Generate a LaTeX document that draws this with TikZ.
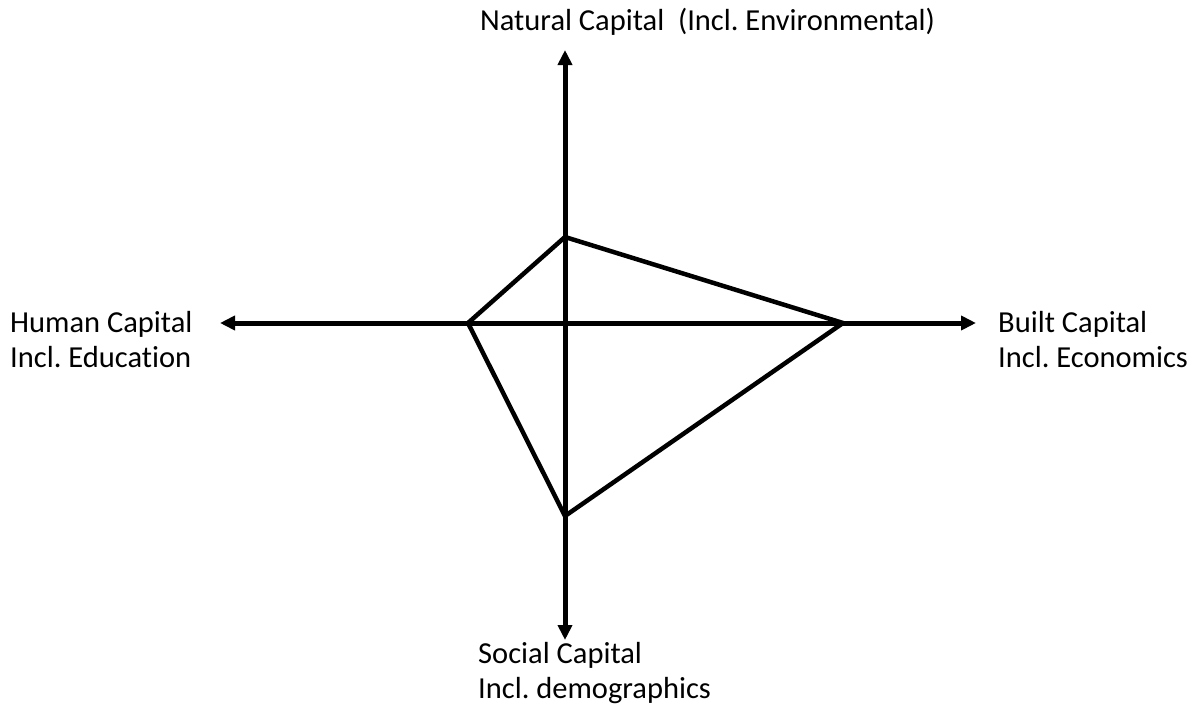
\documentclass[tikz,border=0pt]{standalone}
\usepackage{fontspec}
\setmainfont{Carlito}[Ligatures=NoCommon]
\usetikzlibrary{arrows.meta}
\tikzset{
	axisline/.style={line width=5pt,-{Triangle[length=15pt,width=14pt]}},
	kite/.style={line width=4.5pt,line join=miter},
	caplabel/.style={anchor=west,align=left,inner sep=0pt,font=\fontsize{30.5}{35}\selectfont}
}
\begin{document}
\begin{tikzpicture}[x=1pt,y=-1pt]
			\useasboundingbox (0,0) rectangle (1195,707);
			\coordinate (o) at (565,323);
			\coordinate (n) at (565,50);
			\coordinate (s) at (565,640);
			\coordinate (w) at (220,323);
			\coordinate (e) at (976,323);
			\coordinate (kn) at (565,237);
			\coordinate (ke) at (843,323);
			\coordinate (ks) at (565,516);
			\coordinate (kw) at (468,323);
			\draw[axisline] (o) -- (n);
			\draw[axisline] (o) -- (s);
			\draw[axisline] (o) -- (w);
			\draw[axisline] (o) -- (e);
			\draw[kite] (kn) -- (ke) -- (ks) -- (kw) -- cycle;
			\node[caplabel] (natural) at (480,22) {Natural Capital\ \ (Incl.\ Environmental)};
			\node[caplabel] (human) at (10,340) {Human Capital\\Incl.\ Education};
			\node[caplabel] (built) at (998,340) {Built Capital\\Incl.\ Economics};
			\node[caplabel] (social) at (478,673) {Social Capital\\Incl.\ demographics};
		\end{tikzpicture}
\end{document}
